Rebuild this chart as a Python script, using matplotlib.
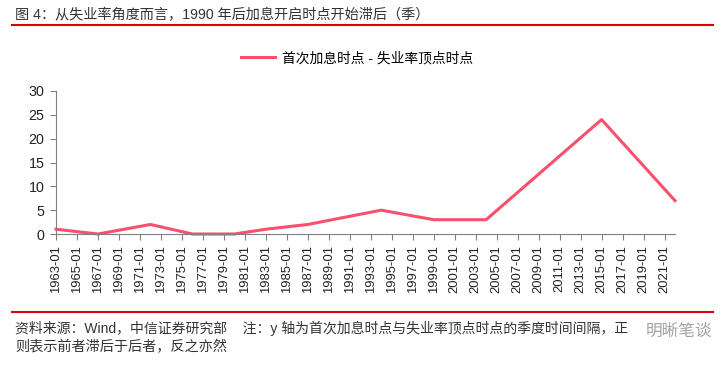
import numpy as np
import pandas as pd
import matplotlib
matplotlib.use("Agg")
from matplotlib import pyplot as plt
import matplotlib.dates as mdates

plt.rcParams['font.family'] = ['Liberation Sans', 'Noto Sans CJK SC', 'DejaVu Sans']

title = "图 4：从失业率角度而言，1990 年后加息开启时点开始滞后（季）"
series_name = "首次加息时点 - 失业率顶点时点"
source = "资料来源：Wind，中信证券研究部    注：y 轴为首次加息时点与失业率顶点时点的季度时间间隔，正"
source2 = "则表示前者滞后于后者，反之亦然"

# quarters between first hike and unemployment peak
dates = ["1963-01", "1967-01", "1972-01", "1976-01", "1980-01", "1983-01",
         "1987-01", "1994-01", "1999-01", "2004-01", "2015-01", "2022-01"]
values = [1, 0, 2, 0, 0, 1, 2, 5, 3, 3, 24, 7]

x = pd.to_datetime(dates)
tick_dates = pd.to_datetime([f"{y}-01" for y in range(1963, 2022, 2)])

fig = plt.figure(figsize=(7.28, 3.65), dpi=100)
ax = fig.add_axes([56/728, 1-234/365, (675-56)/728, (234-91)/365])

line_color = '#F9506E'
ax.plot(x, values, color=line_color, lw=2.2, label=series_name, clip_on=False)

ax.set_xlim(x[0], x[-1])
ax.set_ylim(0, 30)
ax.set_yticks(np.arange(0, 31, 5))
ax.set_xticks(tick_dates)
ax.xaxis.set_major_formatter(mdates.DateFormatter('%Y-%m'))
ax.tick_params(axis='x', rotation=90, labelsize=9.4, length=4, color='#808080', pad=4, labelcolor='#222222')
ax.tick_params(axis='y', labelsize=10.3, length=4.3, color='#808080', pad=4, labelcolor='#222222')
for s in ['top', 'right']:
    ax.spines[s].set_visible(False)
for s in ['left', 'bottom']:
    ax.spines[s].set_color('#808080')

fig.legend(loc='center', bbox_to_anchor=(0.49, 1-58/365), frameon=False,
           fontsize=9.9, handlelength=2.5, handletextpad=0.5)

# header / footer
fig.text(15/728, 1-15/365, title, fontsize=10.2, va='center', ha='left', color='#333333')
fig.add_artist(plt.Line2D([12/728, 713/728], [1-25/365, 1-25/365], color='#D9000D', lw=1.5))
fig.add_artist(plt.Line2D([12/728, 713/728], [1-312/365, 1-312/365], color='#D9000D', lw=1.5))
fig.text(15/728, 1-328/365, source, fontsize=10, va='center', ha='left', color='#333333')
fig.text(15/728, 1-347/365, source2, fontsize=10.2, va='center', ha='left', color='#333333')
fig.text(646/728, 1-331/365, "明晰笔谈", fontsize=12, va='center', ha='left',
         color='#999999', alpha=0.9)

fig.savefig('out.png', dpi=100)
